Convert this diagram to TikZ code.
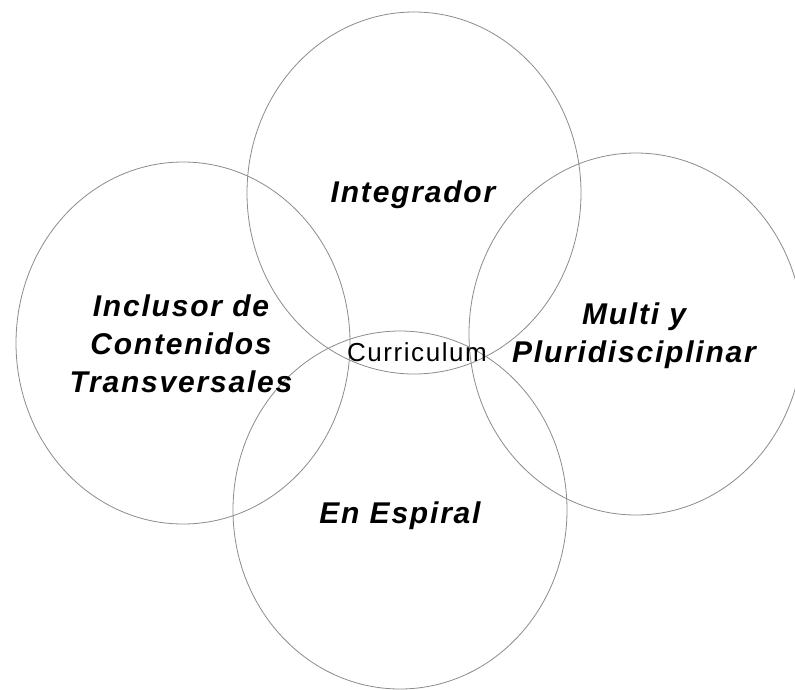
\documentclass[tikz,border=0pt]{standalone}
\usepackage{fontspec}
\setmainfont{Liberation Sans}
\newfontfamily\labfont[LetterSpace=6]{Liberation Sans}
\usetikzlibrary{shapes.geometric}
\tikzset{
  ring/.style={draw=black!45, line width=0.8pt, ellipse, minimum width=334pt, minimum height=362pt, inner sep=0pt},
  biglabel/.style={font=\labfont\bfseries\itshape\fontsize{30}{38}\selectfont, align=center, text=black, inner sep=0pt},
  corelabel/.style={font=\labfont\fontsize{26}{30}\selectfont, text=black, inner sep=0pt}
}
\begin{document}
\begin{tikzpicture}[x=1pt,y=-1pt]
\fill[white] (0,0) rectangle (795,689);
\useasboundingbox (0,0) rectangle (795,689);
\begin{scope}
\clip (0,0) rectangle (795,689);
\node[ring] (top) at (414,193) {};
\node[ring] (left) at (183,343) {};
\node[ring] (right) at (636,334) {};
\node[ring, minimum height=358pt] (bottom) at (400,510) {};
\end{scope}
\node[biglabel] (tl) at (413,195) {Integrador};
\node[biglabel] (ll) at (181,344) {Inclusor de\\Contenidos\\Transversales};
\node[biglabel] (rl) at (634,336) {Multi y\\Pluridisciplinar};
\node[biglabel] (bl) at (400,516) {En Espiral};
\node[corelabel] (cl) at (417,352) {Curriculum};
\end{tikzpicture}
\end{document}
